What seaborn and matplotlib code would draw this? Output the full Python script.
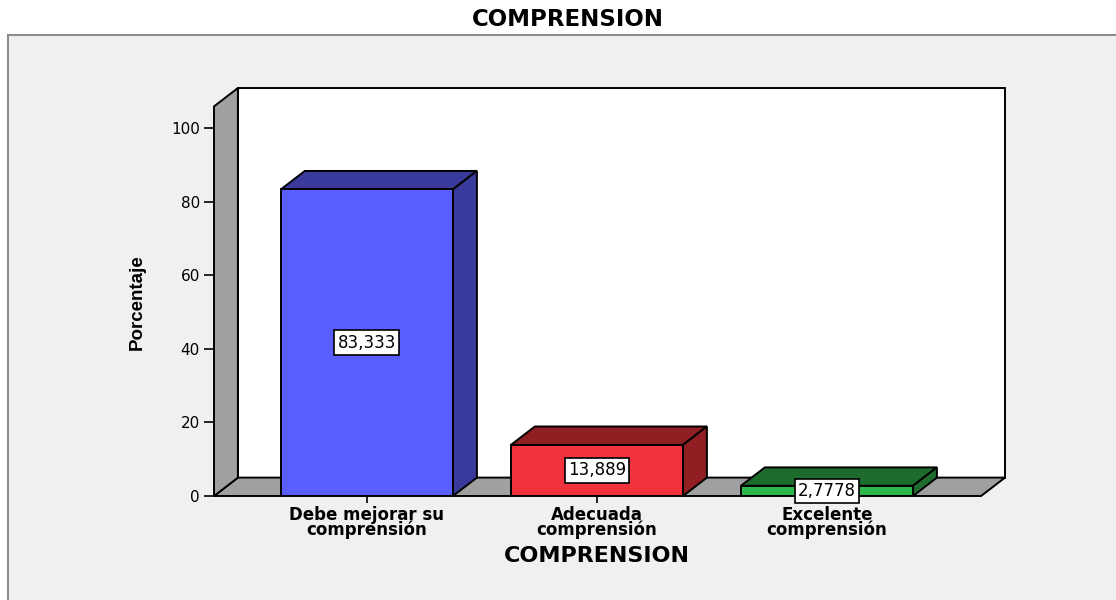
import matplotlib
matplotlib.use("Agg")
import matplotlib.pyplot as plt
import seaborn as sns
import pandas as pd
from matplotlib.patches import Polygon, Rectangle

# ---- data ----
categories = ["Debe mejorar su\ncomprensión", "Adecuada\ncomprensión", "Excelente\ncomprensión"]
percentages = [83.333, 13.889, 2.7778]
value_labels = ["83,333", "13,889", "2,7778"]
y_ticks = [0, 20, 40, 60, 80, 100]
title = "COMPRENSION"
x_label = "COMPRENSION"
y_label = "Porcentaje"

# ---- styles ----
front_colors = ["#5a5eff", "#f0323c", "#2cb84a"]
dark_colors = ["#393a9c", "#901e22", "#1e6b2e"]
wall_grey = "#a0a0a0"
LW = 1.4

sns.set_theme(style="white")
plt.rcParams['font.family'] = ['DejaVu Sans']
plt.rcParams['text.color'] = 'black'

W, H = 1116, 600
fig = plt.figure(figsize=(W / 100, H / 100), dpi=100)
fig.patch.set_facecolor('white')

# outer grey panel
fig.add_artist(Rectangle((8 / W, -0.05), 1.2, 1 - 35 / H + 0.05, transform=fig.transFigure,
                         facecolor='#f0f0f0', edgecolor='#8c8c8c', lw=1.5, zorder=0))

# axes = front plane
x0, x1 = -0.665, 2.774
ytop = 408 / 3.68
ax = fig.add_axes([214 / W, 1 - 496 / H, 791 / W, 408 / H])
ax.patch.set_alpha(0)

df = pd.DataFrame({"cat": categories, "pct": percentages})
sns.barplot(data=df, x="cat", y="pct", hue="cat", palette=front_colors, saturation=1,
            width=0.748, edgecolor="black", linewidth=LW, legend=False, ax=ax, zorder=5)

ax.set_xlim(x0, x1)
ax.set_ylim(0, ytop)
dx, dy = 0.104, 5.0

# back wall, floor, left wall
ax.add_patch(Rectangle((x0 + dx, dy), x1 - (x0 + dx), ytop - dy, facecolor='white',
                       edgecolor='black', lw=LW, zorder=1, clip_on=False))
ax.add_patch(Polygon([(x0, 0), (x1 - dx, 0), (x1, dy), (x0 + dx, dy)], closed=True,
                     facecolor=wall_grey, edgecolor='black', lw=LW, zorder=2, clip_on=False))
ax.add_patch(Polygon([(x0, 0), (x0 + dx, dy), (x0 + dx, ytop), (x0, ytop - dy)], closed=True,
                     facecolor=wall_grey, edgecolor='black', lw=LW, zorder=2, clip_on=False))

# 3D faces of bars + value labels
bars = [p for p in ax.patches if p.get_zorder() == 5]
for bar, dark, lab in zip(bars, dark_colors, value_labels):
    bx, bw, bh = bar.get_x(), bar.get_width(), bar.get_height()
    ax.add_patch(Polygon([(bx, bh), (bx + dx, bh + dy), (bx + bw + dx, bh + dy), (bx + bw, bh)],
                         closed=True, facecolor=dark, edgecolor='black', lw=LW, zorder=4, clip_on=False))
    ax.add_patch(Polygon([(bx + bw, 0), (bx + bw + dx, dy), (bx + bw + dx, bh + dy), (bx + bw, bh)],
                         closed=True, facecolor=dark, edgecolor='black', lw=LW, zorder=4, clip_on=False))
    ax.text(bx + bw / 2, bh / 2, lab, ha='center', va='center', fontsize=12, color='black',
            zorder=10, bbox=dict(boxstyle='square,pad=0.2', fc='white', ec='black', lw=1.2))

for s in ax.spines.values():
    s.set_visible(False)

ax.set_yticks(y_ticks)
ax.set_yticklabels([str(v) for v in y_ticks])
ax.tick_params(axis='y', left=True, length=7.2, width=1.2, color='black', direction='out',
               pad=3, labelsize=11, labelcolor='black')
ax.set_xticks(range(len(categories)))
ax.set_xticklabels(categories, fontweight='bold', fontsize=12, linespacing=0.8)
ax.tick_params(axis='x', bottom=True, length=5, width=1.2, color='black', direction='out',
               pad=2, labelcolor='black')
ax.set_xlabel("")
ax.set_ylabel("")

fig.text(137 / W, 1 - 302 / H, y_label, rotation=90, fontweight='bold', fontsize=13.5,
         family=['Liberation Sans', 'DejaVu Sans'], ha='center', va='center', color='black')
fig.text(597 / W, 1 - 556 / H, x_label, ha='center', va='center', fontsize=16,
         fontweight='bold', color='black')
fig.text(568 / W, 1 - 19 / H, title, ha='center', va='center', fontsize=16.5,
         fontweight='bold', color='black')

fig.savefig('out.png', dpi=100)
